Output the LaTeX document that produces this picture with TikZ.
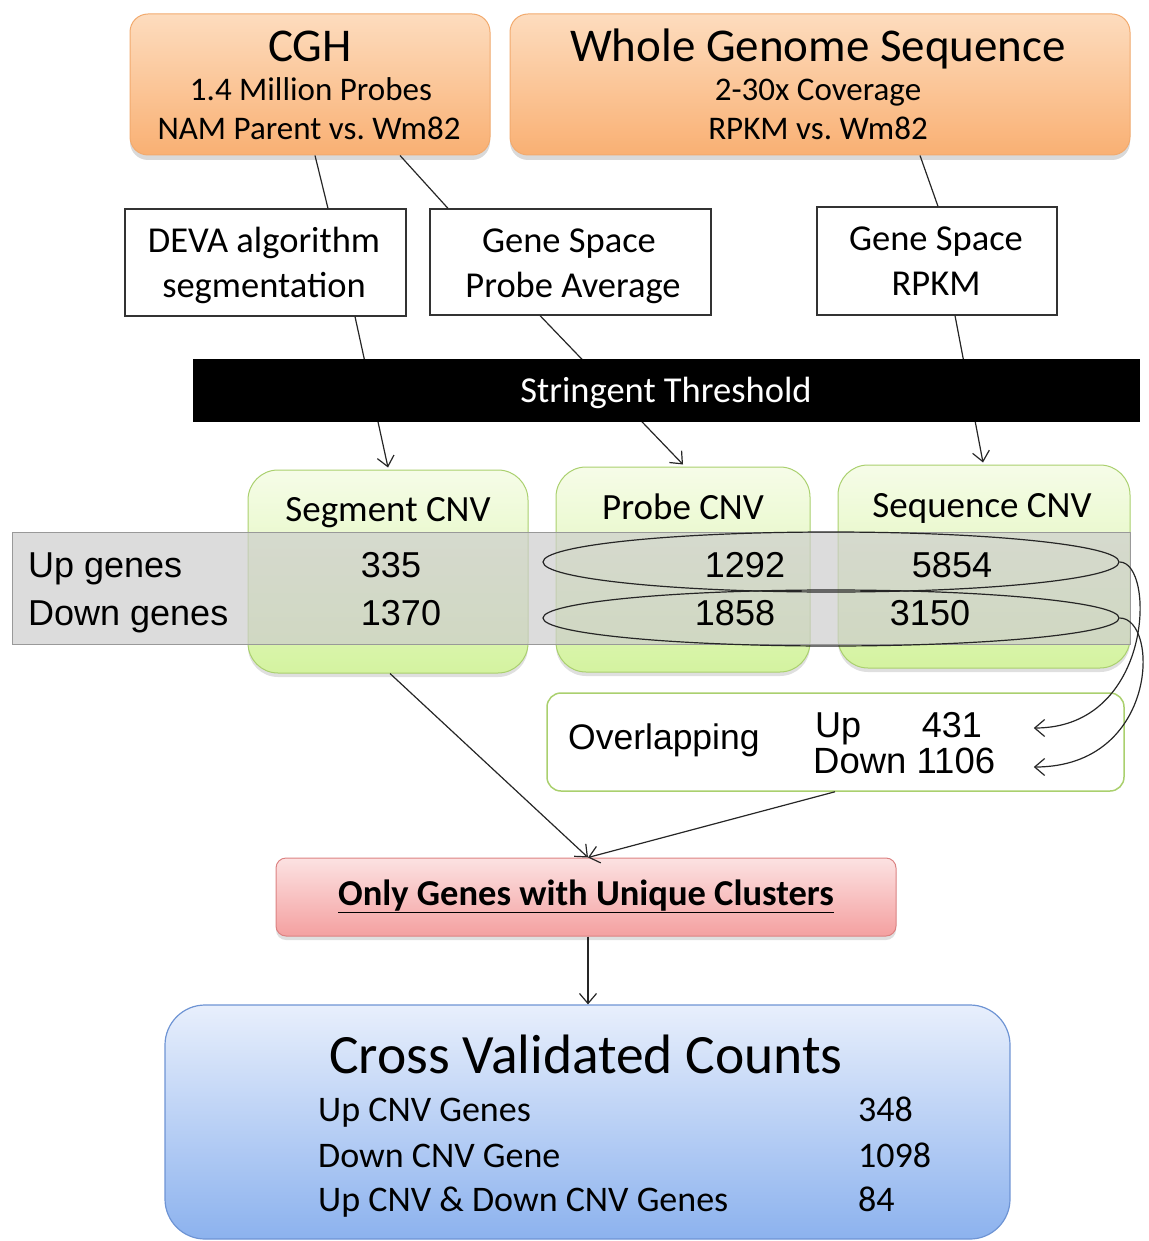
\documentclass[tikz,border=0pt]{standalone}
\usepackage{fontspec}
\setmainfont{Carlito}
\newfontfamily\arialf{Liberation Sans}
\usetikzlibrary{arrows.meta,shadows,shapes.geometric}
\newcommand\setfs[1]{\fontsize{#1}{#1}\selectfont}
\frenchspacing
\definecolor{orTop}{RGB}{253,220,190}
\definecolor{orBot}{RGB}{249,176,115}
\definecolor{orLine}{RGB}{242,170,110}
\definecolor{grTop}{RGB}{246,252,232}
\definecolor{grBot}{RGB}{212,243,160}
\definecolor{grLine}{RGB}{170,208,110}
\definecolor{rdTop}{RGB}{252,226,226}
\definecolor{rdBot}{RGB}{244,160,160}
\definecolor{rdLine}{RGB}{220,130,130}
\definecolor{blTop}{RGB}{232,239,252}
\definecolor{blBot}{RGB}{140,178,238}
\definecolor{blLine}{RGB}{110,148,212}
\definecolor{band}{RGB}{205,205,205}
\tikzset{
  srcbox/.style={rounded corners=18pt, draw=orLine, line width=1pt,
    top color=orTop, bottom color=orBot, inner sep=0pt,
    drop shadow={opacity=.3, shadow xshift=0pt, shadow yshift=-5pt}},
  methbox/.style={draw=black!80, fill=white, line width=1.2pt, inner sep=0pt},
  cnvbox/.style={rounded corners=30pt, draw=grLine, line width=1pt,
    top color=grTop, bottom color=grBot, inner sep=0pt,
    drop shadow={opacity=.25, shadow xshift=0pt, shadow yshift=-4pt}},
  lbl/.style={inner sep=0pt, anchor=base},
  conn/.style={line width=1.2pt, draw=black!85},
  arr/.style={conn, -{Straight Barb[length=10pt,width=17pt]}},
  ring/.style={ellipse, draw=black!85, line width=1.2pt, inner sep=0pt},
}
\begin{document}
\begin{tikzpicture}[x=1pt,y=-1pt]
\useasboundingbox (0,0) rectangle (1148,1241);

% data sources
\node[srcbox, minimum width=360pt, minimum height=141pt] (cgh) at (310,84.5) {};
\node[srcbox, minimum width=620pt, minimum height=141pt] (wgs) at (820,84.5) {};
\node[lbl] (cghT) at (310,62) {\setfs{47}CGH};
\node[lbl] (cghA) at (311,101) {\setfs{33}1.4 Million Probes};
\node[lbl] (cghB) at (309,140) {\setfs{33}NAM Parent vs. Wm82};
\node[lbl] (wgsT) at (818,62) {\setfs{47}Whole Genome Sequence};
\node[lbl] (wgsA) at (818,101) {\setfs{33}2-30x Coverage};
\node[lbl] (wgsB) at (818,140) {\setfs{33}RPKM vs. Wm82};

% methods
\node[methbox, minimum width=281pt, minimum height=107pt] (deva) at (265.5,262.5) {};
\node[methbox, minimum width=281pt, minimum height=106pt] (gspa) at (570.5,262) {};
\node[methbox, minimum width=240pt, minimum height=108pt] (gsr) at (937,261) {};
\node[lbl] (devaA) at (264,252) {\setfs{36.5}DEVA algorithm};
\node[lbl] (devaB) at (264,297) {\setfs{36.5}segmentation};
\node[lbl] (gspaA) at (569,252) {\setfs{36.5}Gene Space};
\node[lbl] (gspaB) at (573,297) {\setfs{36.5}Probe Average};
\node[lbl] (gsrA) at (936,251) {\setfs{36.5}Gene Space};
\node[lbl] (gsrB) at (936,295) {\setfs{36.5}RPKM};

% connectors into the methods
\draw[conn] ([xshift=5pt]cgh.south) -- ([xshift=62.5pt]deva.north);
\draw[conn] ([xshift=90pt]cgh.south) -- ([xshift=-122.5pt]gspa.north);
\draw[conn] ([xshift=100pt]wgs.south) -- ([xshift=1pt]gsr.north);

% CNV result boxes
\node[cnvbox, minimum width=280pt, minimum height=203pt] (seg) at (388,571.5) {};
\node[cnvbox, minimum width=254pt, minimum height=205pt] (probe) at (683,569.5) {};
\node[cnvbox, minimum width=292pt, minimum height=203pt] (seq) at (984,566.5) {};

% arrows through the threshold
\draw[arr] ([xshift=89.5pt]deva.south) -- ([yshift=2pt]seg.north);
\draw[arr] ([xshift=-30.5pt]gspa.south) -- ([yshift=2pt]probe.north);
\draw[arr] ([xshift=18pt]gsr.south) -- ([xshift=-1pt,yshift=2pt]seq.north);

\node[fill=black, inner sep=0pt, minimum width=947pt, minimum height=63pt] (thr) at (666.5,390.5) {};
\node[lbl, text=white] (thrT) at (666,402) {\setfs{36.5}Stringent Threshold};

\node[lbl] (segT) at (388,521) {\setfs{37}Segment CNV};
\node[lbl] (probeT) at (683,519) {\setfs{37}Probe CNV};
\node[lbl] (seqT) at (982,517) {\setfs{37}Sequence CNV};

% count table band
\node[fill=band, fill opacity=.7, draw=black!40, line width=1pt, inner sep=0pt,
  minimum width=1118pt, minimum height=112pt] (tab) at (571,588) {};
\node[lbl, anchor=base west] (upL) at (28,577) {\arialf\setfs{36}Up genes};
\node[lbl, anchor=base west] (dnL) at (28,625) {\arialf\setfs{36}Down genes};
\node[lbl] (n1) at (391,577) {\arialf\setfs{36}335};
\node[lbl] (n2) at (401,625) {\arialf\setfs{36}1370};
\node[lbl] (n3) at (745,577) {\arialf\setfs{36}1292};
\node[lbl] (n4) at (735,625) {\arialf\setfs{36}1858};
\node[lbl] (n5) at (952,577) {\arialf\setfs{36}5854};
\node[lbl] (n6) at (930,625) {\arialf\setfs{36}3150};

% overlap rings
\node[ring, minimum width=576pt, minimum height=60pt] (upE) at (831,562) {};
\node[ring, minimum width=576pt, minimum height=56pt] (dnE) at (831,618) {};

% overlapping box
\node[draw=grLine, line width=1.5pt, fill=white, rounded corners=14pt, inner sep=0pt,
  minimum width=577pt, minimum height=98pt] (ovl) at (835.5,742) {};
\node[lbl, anchor=base west] (ovT) at (568,749) {\arialf\setfs{35.5}Overlapping};
\node[lbl, anchor=base west] (ovU) at (815,737) {\arialf\setfs{36}Up};
\node[lbl, anchor=base east] (ovUn) at (982,737) {\arialf\setfs{36}431};
\node[lbl, anchor=base west] (ovD) at (813,773) {\arialf\setfs{36.5}Down 1106};

\draw[arr] (upE.east) .. controls +(36,0) and +(120,0) .. ([xshift=-91pt,yshift=14pt]ovl.east);
\draw[arr] (dnE.east) .. controls +(40,0) and +(125,0) .. ([xshift=-91pt,yshift=-25pt]ovl.east);

% filtering
\node[rounded corners=10pt, draw=rdLine, line width=1pt, top color=rdTop, bottom color=rdBot,
  inner sep=0pt, minimum width=620pt, minimum height=78pt,
  drop shadow={opacity=.25, shadow xshift=0pt, shadow yshift=-4pt}] (uniq) at (586,897) {};
\node[lbl] (uniqT) at (586,905) {\setfs{36.5}\bfseries\underline{Only Genes with Unique Clusters}};

\draw[arr] ([xshift=2pt]seg.south) -- ([xshift=2pt]uniq.north);
\draw[arr] ([xshift=-0.5pt]ovl.south) -- ([xshift=2pt]uniq.north);

% final counts
\node[rounded corners=40pt, draw=blLine, line width=1.2pt, top color=blTop, bottom color=blBot,
  inner sep=0pt, minimum width=845pt, minimum height=234pt] (cvc) at (587.5,1122) {};
\draw[arr] ([xshift=2pt]uniq.south) -- ([xshift=0.5pt]cvc.north);
\node[lbl] (cvcT) at (586,1073) {\setfs{55.5}Cross Validated Counts};
\node[lbl, anchor=base west] (r1) at (318,1121) {\setfs{36}Up CNV Genes};
\node[lbl, anchor=base west] (r2) at (318,1167) {\setfs{36}Down CNV Gene};
\node[lbl, anchor=base west] (r3) at (318,1211) {\setfs{36}Up CNV \& Down CNV Genes};
\node[lbl, anchor=base west] (v1) at (858,1121) {\setfs{36}348};
\node[lbl, anchor=base west] (v2) at (858,1167) {\setfs{36}1098};
\node[lbl, anchor=base west] (v3) at (858,1211) {\setfs{36}84};
\end{tikzpicture}
\end{document}
